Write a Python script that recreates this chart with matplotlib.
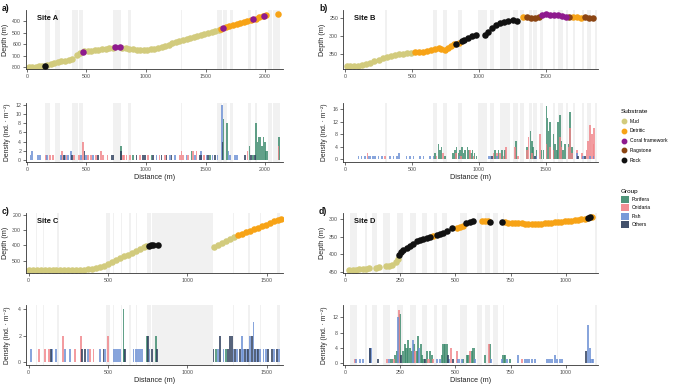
import matplotlib.pyplot as plt
from matplotlib.lines import Line2D
from matplotlib.patches import Patch

plt.rcParams['font.family'] = ['Liberation Sans', 'DejaVu Sans']

W, H = 677, 385

# substrate codes: M mud, D detritic, C coral framework, F flagstone, R rock
sub_names = ['Mud', 'Detritic', 'Coral framework', 'Flagstone', 'Rock']
sub_codes = ['M', 'D', 'C', 'F', 'R']
sub_colors = ['#d2cb7d', '#f7a316', '#8e1a8e', '#8b4513', '#111111']

group_names = ['Porifera', 'Cnidaria', 'Fish', 'Others']
group_colors = ['#3b8a6c', '#f08388', '#6b8fd4', '#2d3d5b']

# ---- depth profiles (distance m, depth m, substrate) ----
a_track = [
    (15, 800, 'M'), (45, 799, 'M'), (75, 798, 'M'), (105, 796, 'M'), (130, 792, 'M'), (150, 788, 'R'),
    (170, 782, 'M'), (200, 775, 'M'), (230, 768, 'M'), (260, 760, 'M'), (290, 752, 'M'), (320, 744, 'M'),
    (350, 736, 'M'), (380, 727, 'M'),
    (420, 692, 'M'), (445, 680, 'M'), (470, 671, 'C'), (480, 664, 'M'), (510, 660, 'M'), (540, 657, 'M'),
    (570, 654, 'M'), (600, 650, 'M'), (630, 646, 'M'), (660, 641, 'M'), (690, 637, 'M'), (720, 632, 'M'),
    (740, 628, 'C'),
    (785, 627, 'C'), (800, 630, 'M'), (830, 637, 'M'), (860, 641, 'M'), (890, 645, 'M'), (920, 647, 'M'),
    (950, 648, 'M'), (980, 648, 'M'), (1010, 647, 'M'), (1040, 644, 'M'), (1070, 639, 'M'), (1100, 632, 'M'),
    (1130, 624, 'M'), (1160, 614, 'M'), (1190, 604, 'M'), (1220, 594, 'M'), (1250, 585, 'M'), (1280, 575, 'M'),
    (1310, 566, 'M'), (1340, 557, 'M'), (1370, 548, 'M'), (1400, 539, 'M'), (1430, 530, 'M'), (1460, 521, 'M'),
    (1490, 512, 'M'), (1520, 503, 'M'), (1550, 494, 'M'), (1580, 485, 'M'), (1610, 476, 'M'), (1630, 465, 'D'),
    (1650, 455, 'C'), (1670, 450, 'D'), (1700, 440, 'D'), (1730, 432, 'D'), (1760, 423, 'D'), (1790, 414, 'D'),
    (1820, 405, 'D'), (1850, 397, 'D'), (1880, 389, 'D'), (1900, 382, 'C'), (1920, 375, 'D'), (1950, 364, 'D'),
    (1980, 353, 'D'), (1990, 350, 'C'), (2010, 344, 'D'), (2110, 337, 'D'),
]
b_track = [
    (12, 383, 'M'), (40, 383, 'M'), (70, 382, 'M'), (100, 381, 'M'), (130, 379, 'M'), (160, 377, 'M'),
    (190, 373, 'M'), (220, 369, 'M'), (250, 365, 'M'), (280, 361, 'M'), (310, 357, 'M'), (340, 354, 'M'),
    (370, 352, 'M'), (400, 350, 'M'), (430, 348, 'M'), (460, 346, 'M'), (490, 345, 'M'),
    (520, 344, 'D'), (550, 343, 'D'), (580, 342, 'D'), (610, 341, 'D'), (640, 339, 'D'), (670, 335, 'D'),
    (700, 332, 'D'), (720, 334, 'D'), (745, 337, 'D'), (770, 333, 'D'), (790, 327, 'D'), (810, 322, 'D'),
    (830, 320, 'R'), (850, 318, 'D'), (870, 313, 'R'), (890, 310, 'R'), (920, 305, 'R'), (950, 300, 'R'),
    (980, 296, 'R'),
    (1045, 296, 'R'), (1070, 288, 'R'), (1100, 278, 'R'), (1130, 270, 'R'), (1160, 264, 'R'), (1190, 260, 'R'),
    (1220, 257, 'R'), (1250, 255, 'R'), (1280, 258, 'R'),
    (1330, 246, 'D'), (1360, 246, 'F'), (1390, 249, 'F'), (1420, 249, 'F'), (1450, 247, 'F'), (1470, 243, 'C'),
    (1500, 240, 'C'), (1530, 241, 'C'), (1560, 241, 'C'), (1590, 243, 'C'), (1620, 244, 'C'), (1650, 246, 'C'),
    (1670, 247, 'F'), (1700, 247, 'D'), (1730, 248, 'D'), (1760, 249, 'D'), (1790, 248, 'F'), (1820, 249, 'F'),
    (1850, 249, 'F'),
]
c_track = [
    (0, 559, 'M'), (25, 560, 'M'), (50, 561, 'M'), (75, 562, 'M'), (100, 562, 'M'), (125, 563, 'M'),
    (150, 563, 'M'), (175, 563, 'M'), (200, 563, 'M'), (225, 563, 'M'), (250, 563, 'M'), (275, 562, 'M'),
    (300, 561, 'M'), (325, 560, 'M'), (350, 558, 'M'), (375, 556, 'M'), (400, 553, 'M'), (425, 549, 'M'),
    (450, 543, 'M'), (475, 533, 'M'), (500, 522, 'M'), (525, 508, 'M'), (550, 495, 'M'), (575, 483, 'M'),
    (600, 472, 'M'), (625, 462, 'M'), (650, 450, 'M'), (675, 437, 'M'), (700, 425, 'M'), (725, 414, 'M'),
    (740, 405, 'M'), (755, 402, 'R'), (770, 401, 'R'), (785, 401, 'R'), (815, 401, 'R'),
    (1170, 408, 'M'), (1195, 395, 'M'), (1220, 383, 'M'), (1245, 371, 'M'), (1270, 358, 'M'), (1295, 345, 'M'),
    (1320, 335, 'D'), (1345, 325, 'D'), (1370, 315, 'D'), (1395, 305, 'D'), (1420, 295, 'D'), (1445, 285, 'D'),
    (1470, 275, 'D'), (1495, 265, 'D'), (1520, 255, 'D'), (1545, 245, 'D'), (1570, 236, 'D'), (1590, 229, 'D'),
]
d_track = [
    (20, 445, 'M'), (35, 444, 'M'), (50, 444, 'M'), (65, 443, 'M'), (80, 442, 'M'), (95, 441, 'M'),
    (110, 440, 'M'), (140, 438, 'M'), (155, 437, 'M'), (185, 433, 'M'), (200, 432, 'M'), (215, 429, 'M'),
    (230, 423, 'M'), (240, 412, 'M'),
    (245, 402, 'R'), (255, 394, 'R'), (265, 388, 'R'), (280, 381, 'R'), (295, 375, 'R'), (310, 369, 'R'),
    (325, 363, 'R'), (340, 358, 'R'), (355, 355, 'R'), (370, 352, 'R'), (385, 349, 'R'), (400, 347, 'D'),
    (415, 345, 'R'), (430, 342, 'R'), (445, 338, 'R'), (460, 334, 'R'), (485, 326, 'R'),
    (506, 326, 'D'), (520, 322, 'D'), (536, 319, 'D'), (550, 310, 'R'), (565, 308, 'R'), (580, 306, 'R'),
    (620, 305, 'D'), (635, 304, 'D'), (650, 305, 'D'), (655, 307, 'R'),
    (710, 309, 'R'), (725, 309, 'D'), (740, 310, 'D'), (755, 310, 'D'), (770, 311, 'D'), (785, 311, 'D'),
    (800, 311, 'D'), (815, 312, 'D'), (830, 312, 'D'), (845, 312, 'D'), (860, 312, 'D'), (875, 312, 'D'),
    (890, 312, 'D'), (905, 311, 'D'), (920, 311, 'D'), (935, 310, 'D'), (950, 309, 'D'), (965, 308, 'D'),
    (980, 307, 'D'), (995, 306, 'D'), (1010, 305, 'D'), (1025, 304, 'D'), (1040, 303, 'D'), (1055, 302, 'D'),
    (1070, 300, 'D'), (1085, 299, 'D'), (1100, 297, 'R'), (1110, 294, 'R'), (1120, 292, 'D'),
]

# ---- grey bands (distance intervals, m) ----
a_bands = [(151, 193), (235, 277), (375, 426), (437, 473), (725, 787), (846, 871), (1295, 1305),
           (1593, 1635), (1644, 1677), (1705, 1733), (1859, 1879), (1915, 1935), (2027, 2055), (2064, 2125)]
b_bands = [(298, 311), (659, 684), (734, 764), (846, 871), (995, 1057), (1082, 1112), (1157, 1231),
           (1256, 1293), (1306, 1336), (1376, 1393), (1405, 1435), (1455, 1480), (1550, 1567),
           (1592, 1624), (1649, 1667), (1699, 1716), (1766, 1784), (1803, 1833), (1865, 1883)]
c_bands = [(46, 55), (88, 97), (181, 193), (487, 513), (529, 538), (580, 590), (634, 643), (676, 685),
           (744, 769), (775, 1164), (1286, 1294), (1380, 1391), (1454, 1462), (1567, 1580)]
d_bands = [(23, 53), (91, 101), (121, 147), (174, 204), (234, 264), (295, 322), (347, 370), (403, 415),
           (438, 461), (521, 551), (597, 619), (634, 657), (672, 695), (715, 721), (960, 966), (1133, 1142)]

# ---- densities (distance m, ind. m-2) per group ----
a_pori = [(787, 3), (893, 1), (1047, 1), (1383, 2), (1537, 1), (1649, 9), (1677, 8), (1868, 3), (1896, 1),
          (1924, 8), (1935, 4), (1943, 5), (1957, 5), (1971, 3), (1985, 5), (1999, 4), (2008, 2), (2019, 2),
          (2114, 5)]
a_cnid = [(160, 1), (193, 1), (221, 1), (297, 2), (333, 1), (395, 1), (437, 1), (473, 4), (515, 1), (535, 1),
          (577, 1), (619, 2), (641, 1), (675, 1), (804, 1), (815, 1), (837, 1), (865, 1), (949, 1), (1019, 1),
          (1112, 1), (1159, 1), (1285, 1), (1299, 2), (1313, 1), (1355, 1), (1392, 2), (1425, 2), (1487, 1),
          (1851, 2), (2111, 3)]
a_fish = [(31, 1), (45, 2), (95, 1), (109, 1), (171, 1), (286, 1), (322, 1), (347, 1), (370, 2), (456, 1),
          (496, 1), (557, 1), (1089, 1), (1201, 1), (1243, 1), (1341, 1), (1411, 1), (1462, 2), (1509, 1),
          (1557, 1), (1599, 1), (1635, 12), (1691, 2), (1705, 1), (1747, 1), (1761, 1)]
a_oth = [(311, 1), (381, 1), (482, 2), (594, 1), (711, 1), (725, 1), (790, 2), (921, 1), (977, 1), (991, 1),
         (1061, 1), (1131, 1), (1173, 1), (1215, 1), (1453, 1), (1467, 1), (1523, 1), (1579, 1), (1641, 4),
         (1831, 1), (1879, 1), (1915, 1)]

b_pori = [(672, 2), (697, 5), (709, 3), (721, 4), (746, 1), (808, 2), (821, 3), (833, 4), (846, 2), (858, 3),
          (871, 4), (883, 2), (896, 3), (913, 4), (925, 3), (940, 2), (952, 3), (965, 2), (980, 1), (1120, 3),
          (1145, 3), (1170, 3), (1195, 3), (1276, 6), (1358, 4), (1383, 9), (1395, 6), (1405, 4), (1430, 3),
          (1465, 3), (1480, 3), (1505, 17), (1512, 13), (1520, 9), (1530, 12), (1555, 8), (1567, 5), (1580, 3),
          (1590, 12), (1605, 14), (1617, 6), (1627, 3), (1642, 5), (1667, 5), (1679, 15), (1692, 4)]
b_cnid = [(167, 2), (299, 1), (684, 1), (733, 2), (828, 2), (865, 1), (933, 3), (960, 1), (1107, 2),
          (1132, 2), (1157, 2), (1182, 1), (1200, 4), (1269, 4), (1290, 1), (1358, 3), (1368, 7), (1395, 2),
          (1455, 8), (1505, 5), (1530, 4), (1555, 3), (1605, 7), (1617, 4), (1667, 4), (1679, 10), (1692, 2),
          (1730, 3), (1767, 2), (1803, 3), (1815, 6), (1827, 11), (1841, 8), (1853, 5), (1860, 10)]
b_fish = [(100, 1), (124, 1), (149, 1), (174, 1), (187, 1), (211, 1), (224, 1), (249, 1), (274, 1), (336, 1),
          (361, 1), (386, 1), (405, 2), (460, 1), (485, 1), (510, 1), (560, 1), (585, 1), (634, 1), (659, 1),
          (853, 1), (1070, 1), (1082, 1), (1132, 1), (1430, 1), (1730, 2), (1777, 1), (1827, 1), (1853, 1)]
b_oth = [(1095, 1), (1420, 1), (1740, 1), (1790, 1)]

c_pori = [(597, 4), (602, 1), (744, 2), (803, 2), (1181, 1), (1244, 1)]
c_cnid = [(67, 1), (103, 1), (130, 1), (214, 2), (292, 1), (328, 2), (387, 1), (408, 1), (502, 2)]
c_fish = [(13, 1), (145, 1), (172, 1), (229, 1), (261, 1), (376, 1), (450, 1), (481, 1), (534, 1), (545, 1),
          (555, 1), (566, 1), (576, 1), (660, 1), (675, 1), (691, 1), (700, 1), (712, 1), (761, 1), (1195, 1),
          (1227, 1), (1290, 1), (1315, 1), (1342, 2), (1352, 1), (1374, 1), (1395, 2), (1416, 3), (1437, 1),
          (1458, 1), (1479, 1), (1495, 1), (1548, 1), (1575, 1)]
c_oth = [(139, 1), (334, 1), (355, 1), (471, 1), (607, 1), (750, 2), (775, 1), (807, 1), (1164, 1), (1206, 2),
         (1258, 1), (1269, 2), (1279, 2), (1300, 1), (1332, 1), (1363, 1), (1384, 1), (1405, 2), (1426, 1),
         (1447, 1), (1510, 1), (1532, 1), (1563, 1)]

d_pori = [(211, 1), (228, 2), (234, 3), (248, 13), (264, 3), (272, 5), (279, 4), (287, 6), (295, 4), (302, 3),
          (313, 5), (325, 3), (331, 7), (343, 5), (350, 2), (356, 1), (370, 3), (385, 3), (393, 2), (438, 2),
          (446, 5), (453, 5), (461, 5), (536, 1), (551, 2), (559, 2), (574, 3), (582, 4), (634, 2), (657, 5),
          (718, 2), (725, 2), (748, 1)]
d_cnid = [(45, 1), (192, 1), (222, 1), (243, 14), (317, 3), (378, 1), (400, 1), (480, 4), (506, 3), (566, 3),
          (652, 5), (800, 1)]
d_fish = [(50, 1), (68, 1), (83, 1), (116, 4), (201, 1), (239, 12), (307, 6), (337, 4), (415, 1), (430, 1),
          (472, 1), (514, 1), (529, 1), (589, 1), (661, 1), (710, 1), (733, 1), (785, 2), (816, 1), (823, 1),
          (835, 1), (846, 1), (861, 1), (914, 1), (926, 1), (937, 1), (952, 2), (959, 1), (974, 1), (982, 1),
          (1102, 10), (1110, 4), (1117, 1), (1125, 1)]
d_oth = [(113, 4), (151, 1), (254, 2), (363, 1), (465, 2), (488, 1), (1090, 3)]

sites = [
    dict(name='Site A', letter='a)', track=a_track, bands=a_bands, dens=[a_pori, a_cnid, a_fish, a_oth],
         xlim=(-8, 2150), xticks=[0, 500, 1000, 1500, 2000], dlim=(818, 300), dticks=[400, 500, 600, 700, 800],
         ylim=(-0.5, 12.5), yticks=[0, 2, 4, 6, 8, 10, 12], bw=14, col=0, row=0),
    dict(name='Site B', letter='b)', track=b_track, bands=b_bands, dens=[b_pori, b_cnid, b_fish, b_oth],
         xlim=(-15, 1888), xticks=[0, 500, 1000, 1500], dlim=(390, 228), dticks=[250, 300, 350],
         ylim=(-0.8, 17.9), yticks=[0, 4, 8, 12, 16], bw=12, col=1, row=0),
    dict(name='Site C', letter='c)', track=c_track, bands=c_bands, dens=[c_pori, c_cnid, c_fish, c_oth],
         xlim=(-17, 1602), xticks=[0, 500, 1000, 1500], dlim=(580, 190), dticks=[200, 300, 400, 500],
         ylim=(-0.2, 4.3), yticks=[0, 2, 4], bw=12, col=0, row=1),
    dict(name='Site D', letter='d)', track=d_track, bands=d_bands, dens=[d_pori, d_cnid, d_fish, d_oth],
         xlim=(-9, 1146), xticks=[0, 250, 500, 750, 1000], dlim=(453, 282), dticks=[300, 350, 400, 450],
         ylim=(-0.6, 15.3), yticks=[0, 4, 8, 12], bw=10, col=1, row=1),
]


def rect(x0, y0, x1, y1):
    return [x0 / W, 1 - y1 / H, (x1 - x0) / W, (y1 - y0) / H]


def style(ax):
    for s in ['top', 'right']:
        ax.spines[s].set_visible(False)
    for s in ['left', 'bottom']:
        ax.spines[s].set_color('#333333')
        ax.spines[s].set_linewidth(0.6)
    ax.tick_params(length=2, width=0.5, color='#333333', labelsize=3.8, labelcolor='#4d4d4d', pad=1.5)
    ax.set_facecolor('white')


fig = plt.figure(figsize=(W / 100, H / 100), dpi=100)

col_x = [(26, 283), (343, 598)]
row_y = [((10, 69), (103, 162)), ((213, 273), (305, 365))]
zorder_sub = {'M': 2, 'D': 3, 'F': 3, 'C': 4, 'R': 4}

for s in sites:
    x0, x1 = col_x[s['col']]
    (ty0, ty1), (by0, by1) = row_y[s['row']]
    ax1 = fig.add_axes(rect(x0, ty0, x1, ty1))
    ax2 = fig.add_axes(rect(x0, by0, x1, by1))

    for ax in (ax1, ax2):
        style(ax)
        for b0, b1 in s['bands']:
            ax.axvspan(b0, b1, color='#dedede', alpha=0.4, lw=0, zorder=0)
        ax.set_xlim(*s['xlim'])
        ax.set_xticks(s['xticks'])
    ax1.yaxis.set_label_coords(-0.066, 0.5)
    ax2.yaxis.set_label_coords(-0.058, 0.5)

    # depth track
    for code, color in zip(sub_codes, sub_colors):
        pts = [(d, z) for d, z, c in s['track'] if c == code]
        if pts:
            ax1.scatter([p[0] for p in pts], [p[1] for p in pts], s=22, color=color,
                        linewidths=0, zorder=zorder_sub[code])
    ax1.set_ylim(*s['dlim'])
    ax1.set_yticks(s['dticks'])
    ax1.set_ylabel('Depth (m)', fontsize=5.2, color='#222222')
    ax1.text(0.043, 0.86, s['name'], transform=ax1.transAxes, fontsize=5.4, fontweight='bold',
             va='center', ha='left', color='#111111')

    # densities
    for data, color in zip(s['dens'], group_colors):
        ax2.bar([p[0] for p in data], [p[1] for p in data], width=s['bw'], color=color,
                alpha=0.8, linewidth=0, zorder=2)
    ax2.set_ylim(*s['ylim'])
    ax2.set_yticks(s['yticks'])
    ax2.set_ylabel('Density (ind. · m\u207b\u00b2)', fontsize=4.9, color='#222222')
    ax2.set_xlabel('Distance (m)', fontsize=5.2, color='#222222')
    ax2.xaxis.set_label_coords(0.5, -0.2)

    fig.text((x0 - 24) / W, 1 - (ty0 - 6) / H, s['letter'], fontsize=6.2, fontweight='bold',
             va='top', ha='left', color='#111111')

sub_handles = [Line2D([], [], marker='o', ls='', color=c, markersize=3.2) for c in sub_colors]
leg1 = fig.legend(sub_handles, sub_names, title='Substrate', loc='upper left',
                  bbox_to_anchor=(621 / W, 1 - 109 / H), frameon=False, fontsize=3.6,
                  title_fontsize=4.6, labelspacing=0.95, handletextpad=0.5, borderaxespad=0,
                  borderpad=0, handlelength=1.2, alignment='left')

grp_handles = [Patch(facecolor=c, edgecolor='none', alpha=0.9) for c in group_colors]
leg2 = fig.legend(grp_handles, group_names, title='Group', loc='upper left',
                  bbox_to_anchor=(621 / W, 1 - 189 / H), frameon=False, fontsize=3.6,
                  title_fontsize=4.6, labelspacing=0.3, handletextpad=0.6, borderaxespad=0,
                  borderpad=0, handlelength=1.5, handleheight=1.8, alignment='left')

fig.savefig('out.png', dpi=100, facecolor='white')
